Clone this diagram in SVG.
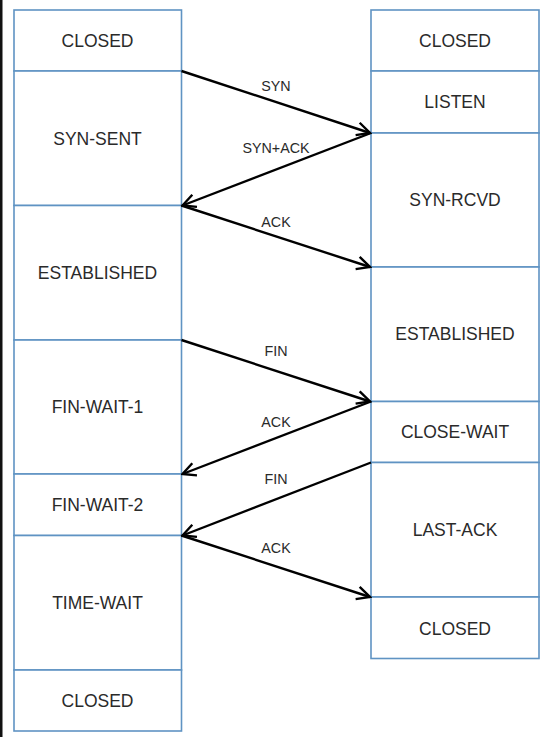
<svg xmlns="http://www.w3.org/2000/svg" width="547" height="737" viewBox="0 0 547 737">
<style>
.box{fill:#fff;stroke:#5f93c3;stroke-width:1.6}
.st{font-family:"Liberation Sans",Arial,sans-serif;font-size:17.5px;fill:#2a2a2a;text-anchor:middle}
.lb{font-family:"Liberation Sans",Arial,sans-serif;font-size:14.3px;fill:#2a2a2a;text-anchor:middle}
.ar{stroke:#000;stroke-width:2.4;fill:none;marker-end:url(#ah)}
</style>
<defs>
<marker id="ah" markerUnits="userSpaceOnUse" viewBox="-16 -9 18 18" refX="0" refY="0" markerWidth="18" markerHeight="18" orient="auto">
<path d="M-13,-6.5 L0,0 L-13,6.5" fill="none" stroke="#000" stroke-width="2.4"/>
</marker>
</defs>
<rect x="0" y="0" width="547" height="737" fill="#fff"/>
<rect x="0" y="0" width="2.5" height="737" fill="#111"/>
<g id="left-closed"><rect class="box" x="14" y="10" width="167.5" height="61"/><text class="st" x="97.5" y="46.7">CLOSED</text></g>
<g id="syn-sent"><rect class="box" x="14" y="71" width="167.5" height="134.5"/><text class="st" x="97.5" y="144.7">SYN-SENT</text></g>
<g id="left-established"><rect class="box" x="14" y="205.5" width="167.5" height="134.5"/><text class="st" x="97.5" y="279.2">ESTABLISHED</text></g>
<g id="fin-wait-1"><rect class="box" x="14" y="340" width="167.5" height="134"/><text class="st" x="97.5" y="413.2">FIN-WAIT-1</text></g>
<g id="fin-wait-2"><rect class="box" x="14" y="474" width="167.5" height="61.5"/><text class="st" x="97.5" y="510.7">FIN-WAIT-2</text></g>
<g id="time-wait"><rect class="box" x="14" y="535.5" width="167.5" height="134.5"/><text class="st" x="97.5" y="609.2">TIME-WAIT</text></g>
<g id="left-closed-end"><rect class="box" x="14" y="670" width="167.5" height="61"/><text class="st" x="97.5" y="706.7">CLOSED</text></g>
<g id="right-closed"><rect class="box" x="371" y="10" width="168" height="61"/><text class="st" x="455" y="46.7">CLOSED</text></g>
<g id="listen"><rect class="box" x="371" y="71" width="168" height="62"/><text class="st" x="455" y="108.2">LISTEN</text></g>
<g id="syn-rcvd"><rect class="box" x="371" y="133" width="168" height="134"/><text class="st" x="455" y="206.2">SYN-RCVD</text></g>
<g id="right-established"><rect class="box" x="371" y="267" width="168" height="134.5"/><text class="st" x="455" y="340.2">ESTABLISHED</text></g>
<g id="close-wait"><rect class="box" x="371" y="401.5" width="168" height="61"/><text class="st" x="455" y="438.2">CLOSE-WAIT</text></g>
<g id="last-ack"><rect class="box" x="371" y="462.5" width="168" height="134.5"/><text class="st" x="455" y="536.2">LAST-ACK</text></g>
<g id="right-closed-end"><rect class="box" x="371" y="597" width="168" height="61.5"/><text class="st" x="455" y="634.7">CLOSED</text></g>
<g id="connectors">
<line class="ar" x1="181.5" y1="71" x2="370" y2="133"/>
<line class="ar" x1="371" y1="133" x2="182.5" y2="205.5"/>
<line class="ar" x1="181.5" y1="205.5" x2="370" y2="267"/>
<line class="ar" x1="181.5" y1="340" x2="370" y2="401.5"/>
<line class="ar" x1="371" y1="401.5" x2="182.5" y2="474"/>
<line class="ar" x1="371" y1="462.5" x2="182.5" y2="535.5"/>
<line class="ar" x1="181.5" y1="535.5" x2="370" y2="597"/>
<text class="lb" x="276" y="91">SYN</text>
<text class="lb" x="276" y="152.5">SYN+ACK</text>
<text class="lb" x="276" y="226.5">ACK</text>
<text class="lb" x="276" y="355.5">FIN</text>
<text class="lb" x="276" y="426.5">ACK</text>
<text class="lb" x="276" y="484">FIN</text>
<text class="lb" x="276" y="552.5">ACK</text>
</g>
</svg>
